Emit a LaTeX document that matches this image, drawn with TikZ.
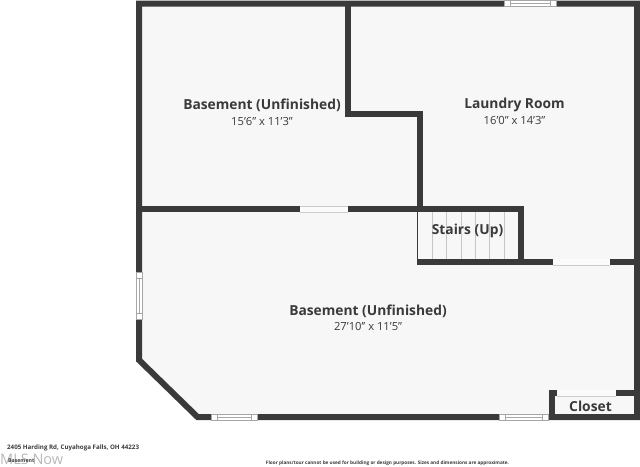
\documentclass[tikz,border=0pt]{standalone}
\usepackage{fontspec}
\setmainfont{Open Sans}
\definecolor{wallc}{HTML}{3A3A3A}
\definecolor{floorc}{HTML}{F7F7F7}
\definecolor{txtc}{HTML}{3A3A3A}
\tikzset{
  wall/.style={line width=6pt,draw=wallc,line cap=butt,line join=miter},
  gapc/.style={fill=floorc!50!white,draw=none},
  winframe/.style={fill=white,draw=gray!70,line width=0.5pt},
  tread/.style={draw=gray!45,line width=0.7pt},
  roomname/.style={font=\fontsize{13.8}{16}\selectfont\bfseries,text=txtc,inner sep=0pt},
  roomsize/.style={font=\fontsize{11.2}{12}\selectfont,text=txtc,inner sep=0pt},
  smalltxt/.style={text=txtc,inner sep=0pt,anchor=west},
}
\newcommand{\hwin}[3]{% x1 x2 ycentre
  \fill[white] (#1,#3-3) rectangle (#2,#3+3);
  \draw[winframe] (#1,#3-3) rectangle (#2,#3+3);
  \draw[winframe,fill=none] (#1+6,#3-3) rectangle (#2-6,#3+3);
  \draw[gray!70,line width=0.4pt] (#1+6,#3) -- (#2-6,#3);
}
\begin{document}
\begin{tikzpicture}[x=1pt,y=-1pt]
\useasboundingbox (0,0) rectangle (640,466);
% floor
\fill[floorc] (139,3.5) -- (637,3.5) -- (637,417) -- (197.5,417) -- (139,360) -- cycle;
% outer wall
\draw[wall] (139,3.5) -- (637,3.5) -- (637,417) -- (197.5,417) -- (139,360) -- cycle;
% inner walls
\draw[wall] (348,3.5) -- (348,114) -- (420,114) -- (420,209);
\draw[wall] (417,262) -- (637,262);
\draw[wall] (139,209) -- (521,209) -- (521,262);
\draw[wall] (552,417) -- (552,393) -- (637,393);
\draw[wallc,line width=1.5pt] (417.7,209) -- (417.7,262);
% openings
\fill[gapc] (300,206) rectangle (348,212);
\fill[gapc] (553,259) rectangle (610,265);
\fill[gapc] (557,390) rectangle (616,396);
\draw[gray!40,line width=0.4pt] (300,206) -- (348,206) (300,212) -- (348,212);
\draw[gray!40,line width=0.4pt] (553,265) -- (610,265);
\draw[gray!40,line width=0.4pt] (557,396) -- (616,396);
% windows
\hwin{504}{556}{3.5}
\hwin{211}{257}{417}
\hwin{499}{548}{417}
\fill[white] (136,272) rectangle (142,319);
\draw[winframe] (136,272) rectangle (142,319);
\draw[winframe,fill=none] (136,278) rectangle (142,313);
\draw[gray!70,line width=0.4pt] (139,278) -- (139,313);
% treads
\foreach \x in {432,446,461,475,489,504}
  \draw[tread] (\x,212) -- (\x,259);
% labels
\node[roomname] (b1) at (262,105.5) {Basement (Unfinished)};
\node[roomsize] (b1s) at (262,121) {15'6'{}' x 11'3'{}'};
\node[roomname] (lr) at (514.5,105) {Laundry Room};
\node[roomsize] (lrs) at (514.5,120.5) {16'0'{}' x 14'3'{}'};
\node[roomname] (st) at (467.5,231) {Stairs (Up)};
\node[roomname] (b2) at (368,311) {Basement (Unfinished)};
\node[roomsize] (b2s) at (368,326.5) {27'10'{}' x 11'5'{}'};
\node[roomname] (cl) at (590.5,406) {Closet};
% footer
\node[text=gray!55,inner sep=0pt,anchor=west,font=\fontsize{14.5}{16}\selectfont] (mls) at (0,459) {MLS Now};
\node[smalltxt,font=\fontsize{6.2}{7}\selectfont\bfseries] (addr) at (7,447.5) {2405 Harding Rd, Cuyahoga Falls, OH 44223};
\node[smalltxt,font=\fontsize{5.2}{6}\selectfont\bfseries] (lvl) at (8,461) {Basement};
\node[text=txtc,inner sep=0pt,font=\fontsize{4.7}{5}\selectfont\bfseries] (disc) at (387.5,463) {Floor plans/tour cannot be used for building or design purposes. Sizes and dimensions are approximate.};
\end{tikzpicture}
\end{document}
